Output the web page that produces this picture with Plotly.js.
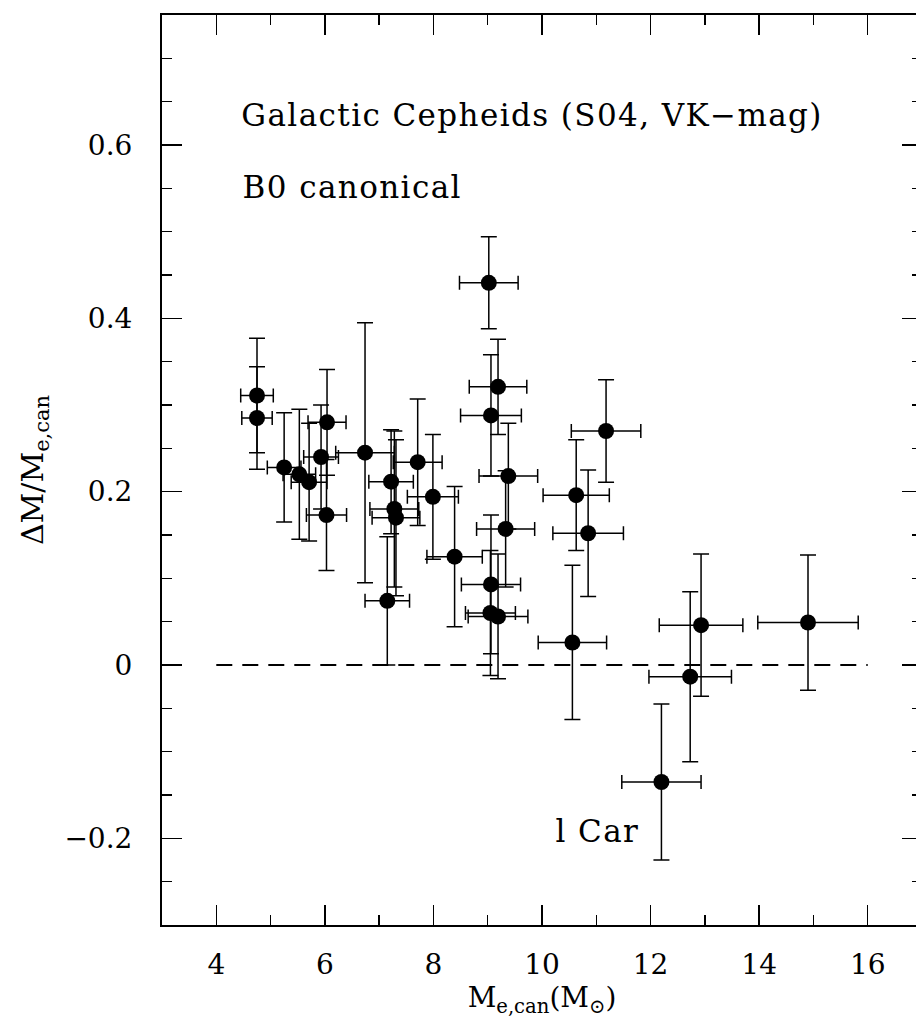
<!DOCTYPE html>
<html>
<head>
<meta charset="utf-8">
<script src="https://cdn.plot.ly/plotly-3.0.1.min.js"></script>
<style>
html,body{margin:0;padding:0;overflow:hidden;background:#fff;}
#chart{width:922px;height:1023px;}
.infolayer .annotation-text{letter-spacing:1.4px;}
</style>
</head>
<body>
<div id="chart"></div>
<script>
// Data
const massCan = [4.75, 4.75, 5.25, 5.53, 5.71, 5.93, 6.04, 6.03, 6.74, 7.22, 7.28, 7.31, 7.15, 7.71, 7.99, 8.39,
                 9.02, 9.19, 9.06, 9.38, 9.33, 9.06, 9.05, 9.19, 10.63, 10.85, 11.18, 10.56, 12.93, 12.73, 12.20, 14.90];
const massErr = [0.30, 0.28, 0.31, 0.30, 0.33, 0.32, 0.35, 0.37, 0.54, 0.41, 0.45, 0.44, 0.41, 0.45, 0.47, 0.51,
                 0.54, 0.53, 0.56, 0.54, 0.535, 0.545, 0.46, 0.55, 0.61, 0.65, 0.64, 0.63, 0.77, 0.76, 0.73, 0.925];
const dMass   = [0.311, 0.285, 0.228, 0.220, 0.211, 0.240, 0.280, 0.173, 0.245, 0.2115, 0.180, 0.170, 0.074, 0.234, 0.194, 0.125,
                 0.441, 0.321, 0.288, 0.218, 0.157, 0.093, 0.060, 0.056, 0.196, 0.152, 0.270, 0.026, 0.046, -0.0135, -0.135, 0.049];
const dMassErr = [0.066, 0.059, 0.063, 0.075, 0.068, 0.060, 0.061, 0.064, 0.150, 0.060, 0.090, 0.090, 0.074, 0.073, 0.072, 0.081,
                  0.053, 0.055, 0.070, 0.061, 0.067, 0.080, 0.072, 0.072, 0.064, 0.073, 0.059, 0.089, 0.082, 0.098, 0.090, 0.078];
const refLineX = [4, 16];
const refLineY = [0, 0];
const xTickVals = [4, 6, 8, 10, 12, 14, 16];
const yTickVals = [-0.2, 0, 0.2, 0.4, 0.6];
const yTickText = ['\u22120.2', '0', '0.2', '0.4', '0.6'];

const FONT = 'DejaVu Serif, Liberation Serif, serif';

const traces = [
  {
    x: refLineX, y: refLineY, mode: 'lines', type: 'scatter',
    line: {color: 'black', width: 2, dash: '16px,10px'},
    hoverinfo: 'skip', showlegend: false
  },
  {
    x: massCan, y: dMass, mode: 'markers', type: 'scatter',
    marker: {color: 'black', size: 16, symbol: 'circle'},
    error_x: {type: 'data', array: massErr, symmetric: true, color: 'black', thickness: 1.5, width: 7},
    error_y: {type: 'data', array: dMassErr, symmetric: true, color: 'black', thickness: 1.5, width: 8},
    showlegend: false
  }
];

const axisCommon = {
  showgrid: false, zeroline: false, showline: true, linecolor: 'black', linewidth: 2,
  mirror: 'allticks', ticks: 'inside', ticklen: 20, tickwidth: 1.5, tickcolor: 'black',
  tickfont: {family: FONT, size: 28, color: 'black'}
};

const layout = {
  width: 922, height: 1023,
  margin: {l: 162, r: 0, t: 15, b: 98},
  paper_bgcolor: 'white', plot_bgcolor: 'white',
  showlegend: false,
  xaxis: Object.assign({}, axisCommon, {
    range: [3, 17], tickmode: 'array', tickvals: xTickVals, ticklabelstandoff: 13,
    minor: {dtick: 1, tick0: 3, ticks: 'inside', ticklen: 10, tickwidth: 1.5, tickcolor: 'black'},
    title: {text: 'M<sub>e,can</sub>(M<sub>\u2299</sub>)', font: {family: FONT, size: 28, color: 'black'}, standoff: 8}
  }),
  yaxis: Object.assign({}, axisCommon, {
    range: [-0.3, 0.75], tickmode: 'array', tickvals: yTickVals, ticktext: yTickText, ticklabelstandoff: 22,
    minor: {dtick: 0.05, tick0: 0, ticks: 'inside', ticklen: 10, tickwidth: 1.5, tickcolor: 'black'},
    title: {text: '\u0394M/M<sub>e,can</sub>', font: {family: FONT, size: 30, color: 'black'}, standoff: 12}
  }),
  annotations: [
    {x: 4.83, y: 0.635, xref: 'x', yref: 'y', xanchor: 'left', yanchor: 'middle', showarrow: false,
     text: 'Galactic Cepheids (S04, VK\u2212mag)', font: {family: FONT, size: 31, color: 'black'}},
    {x: 4.61, y: 0.552, xref: 'x', yref: 'y', xanchor: 'left', yanchor: 'middle', showarrow: false,
     text: 'B0 canonical', font: {family: FONT, size: 31, color: 'black'}},
    {x: 11.03, y: -0.192, xref: 'x', yref: 'y', xanchor: 'center', yanchor: 'middle', showarrow: false,
     text: 'l Car', font: {family: FONT, size: 31, color: 'black'}}
  ]
};

Plotly.newPlot('chart', traces, layout, {displayModeBar: false, staticPlot: true});
</script>
</body>
</html>
